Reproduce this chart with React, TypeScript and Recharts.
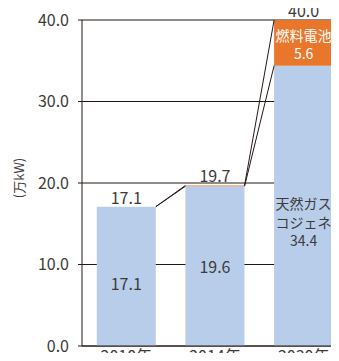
import { BarChart, Bar, XAxis, YAxis, CartesianGrid, LabelList, ReferenceLine } from 'recharts'

const years = ['2010年', '2014年', '2030年']
const gasCogen = [17.1, 19.6, 34.4]
const fuelCell = [0, 0.1, 5.6]
const totals = [17.1, 19.7, 40.0]
const yTicks = [0, 10, 20, 30, 40]
const gasName = ['天然ガス', 'コジェネ']
const fcName = '燃料電池'

const data = years.map((year, i) => ({ year, gas: gasCogen[i], fc: fuelCell[i], total: totals[i] }))

const INK = '#231815'
const TEXT = '#3e3a39'
const BLUE = '#b8cde9'
const ORANGE = '#e8772c'
const GAP = 1 / 6
const FONT = '"Noto Sans CJK JP", "Noto Sans", sans-serif'
// nudge for inner value labels so they clear the grid line
const innerDy = [7, 0, 0]

const TotalText = ({ x, y, value }: { x: number; y: number; value: number }) => (
  <text x={x} y={y - 3} textAnchor="middle" fill={TEXT} fontSize={16} fontFamily={FONT}>
    {value.toFixed(1)}
  </text>
)

const GasLabel = (props: any) => {
  const { x, y, width, height, index } = props
  const cx = x + width / 2
  const cy = y + height / 2
  const top = fuelCell[index] === 0 ? <TotalText x={cx} y={y} value={totals[index]} /> : null
  if (index === years.length - 1) {
    return (
      <text textAnchor="middle" fill={TEXT} fontSize={14} fontFamily={FONT} dominantBaseline="central">
        <tspan x={cx} y={cy - 3}>{gasName[0]}</tspan>
        <tspan x={cx} y={cy + 16}>{gasName[1]}</tspan>
        <tspan x={cx} y={cy + 34}>{gasCogen[index].toFixed(1)}</tspan>
      </text>
    )
  }
  return (
    <g>
      {top}
      <text x={cx} y={cy + innerDy[index]} textAnchor="middle" dominantBaseline="central" fill={TEXT} fontSize={16} fontFamily={FONT}>
        {gasCogen[index].toFixed(1)}
      </text>
    </g>
  )
}

const TotalLabel = (props: any) => {
  const { x, y, width, value } = props
  return <TotalText x={x + width / 2} y={y} value={Number(value)} />
}

const FcNameLabel = (props: any) => {
  const { x, y, width, height, value } = props
  if (Number(value) < 1) return null
  const cx = x + width / 2
  const cy = y + height / 2
  return (
    <text textAnchor="middle" fill="#fff" fontSize={14} fontFamily={FONT} dominantBaseline="central">
      <tspan x={cx} y={cy - 8}>{fcName}</tspan>
      <tspan x={cx} y={cy + 10}>{Number(value).toFixed(1)}</tspan>
    </text>
  )
}

const UnitLabel = (props: any) => {
  const { viewBox } = props
  const lx = viewBox.x + 18
  const ly = viewBox.y + viewBox.height / 2 - 5
  return (
    <text x={lx} y={ly} transform={`rotate(-90, ${lx}, ${ly})`} textAnchor="middle" dominantBaseline="central" fill={TEXT} fontSize={13} fontFamily={FONT}>
      (万kW)
    </text>
  )
}

// connector from the right edge of one bar to the left edge of the next (segment is given at band centres)
const Connector = (props: any) => {
  const { x1, y1, x2, y2 } = props
  const half = ((x2 - x1) * (1 - 2 * GAP)) / 2
  return <line x1={x1 + half} y1={y1} x2={x2 - half} y2={y2} stroke={INK} strokeWidth={1} />
}

export default function App() {
  return (
    <div style={{ margin: -8, width: 339, height: 361, overflow: 'hidden', background: '#fff' }}>
      <BarChart width={348} height={361} data={data} margin={{ top: 20, right: 0, bottom: 0, left: 0 }} barCategoryGap={`${GAP * 100}%`}>
        <CartesianGrid vertical={false} stroke={INK} strokeWidth={1} />
        <XAxis
          dataKey="year"
          height={15}
          tickLine={false}
          tickSize={0}
          tickMargin={5}
          axisLine={{ stroke: INK }}
          tick={{ fill: TEXT, fontSize: 16, fontFamily: FONT }}
        />
        <YAxis
          width={82}
          domain={[0, 40]}
          ticks={yTicks}
          tickFormatter={(v: number) => v.toFixed(1)}
          tickSize={4}
          tickMargin={9}
          axisLine={{ stroke: INK }}
          tickLine={{ stroke: INK }}
          tick={{ fill: TEXT, fontSize: 16, fontFamily: FONT }}
          label={<UnitLabel />}
        />
        <Bar dataKey="gas" stackId="a" fill={BLUE} isAnimationActive={false}>
          <LabelList content={<GasLabel />} />
        </Bar>
        <Bar dataKey="fc" stackId="a" fill={ORANGE} isAnimationActive={false}>
          <LabelList dataKey="total" content={<TotalLabel />} />
          <LabelList dataKey="fc" content={<FcNameLabel />} />
        </Bar>
        {years.slice(0, -1).flatMap((_, i) =>
          [gasCogen, totals].map((s, k) => (
            <ReferenceLine
              key={`c${i}-${k}`}
              segment={[
                { x: years[i], y: s[i] },
                { x: years[i + 1], y: s[i + 1] },
              ]}
              stroke={INK}
              shape={Connector}
            />
          ))
        )}
      </BarChart>
    </div>
  )
}
